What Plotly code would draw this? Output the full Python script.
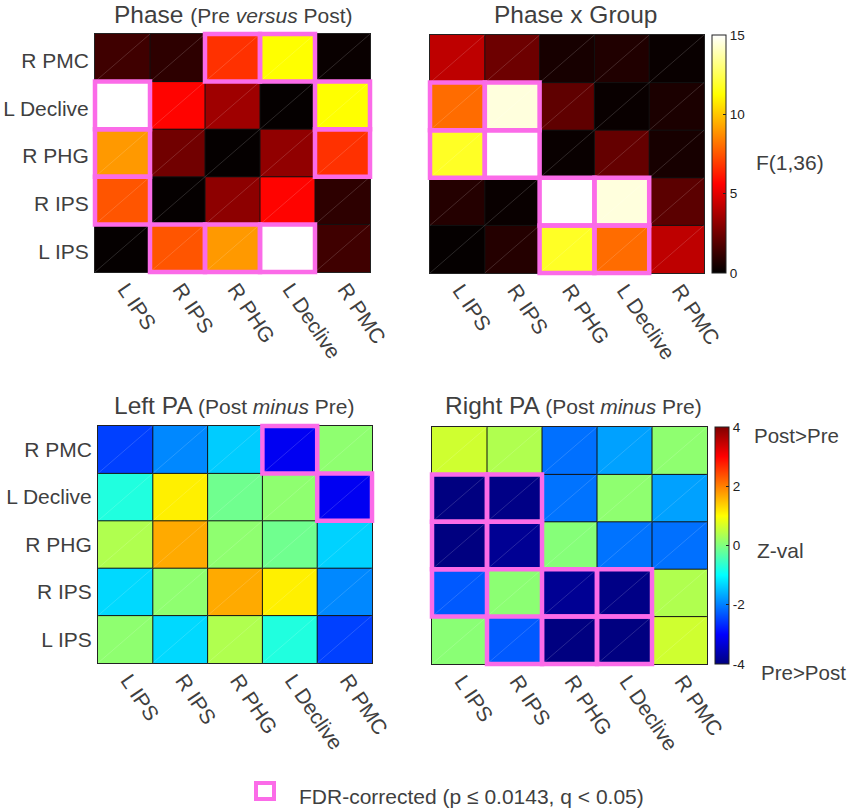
import plotly.graph_objects as go

# -------------------------------
# Data
# -------------------------------
x_labels = ['L IPS', 'R IPS', 'R PHG', 'L Declive', 'R PMC']
y_labels = ['R PMC', 'L Declive', 'R PHG', 'R IPS', 'L IPS']

phase_vals = [
    [1.4, 1.0, 6.7, 11.25, 0.2],
    [15.0, 5.7, 3.5, 0.1, 11.25],
    [9.0, 2.5, 0.1, 3.2, 6.7],
    [7.5, 0.1, 3.1, 5.7, 1.0],
    [0.1, 7.5, 9.0, 15.0, 1.4],
]
group_vals = [
    [4.2, 2.4, 0.5, 0.7, 0.2],
    [8.0, 14.5, 2.1, 0.2, 0.6],
    [11.8, 15.0, 0.2, 2.2, 0.5],
    [0.8, 0.2, 15.0, 14.5, 2.0],
    [0.1, 0.8, 11.8, 8.0, 4.2],
]
left_vals = [
    [-2.5, -1.93, -1.4, -3.1, 0.12],
    [-0.75, 1.12, -0.12, 0.12, -3.1],
    [0.38, 1.67, 0.12, -0.12, -1.35],
    [-1.3, 0.12, 1.67, 1.12, -1.93],
    [0.12, -1.3, 0.38, -0.75, -2.5],
]
right_vals = [
    [0.62, 0.38, -2.12, -1.74, 0.12],
    [-4.0, -3.95, -2.1, 0.12, -1.74],
    [-4.0, -3.85, 0.05, -2.1, -2.12],
    [-2.3, 0.1, -3.85, -3.95, 0.38],
    [0.08, -2.3, -4.0, -4.0, 0.62],
]

# colour bar ticks
f_ticks = [0, 5, 10, 15]
f_tick_text = ['0', '5', '10', '15']
z_ticks = [-4, -2, 0, 2, 4]
z_tick_text = ['-4', '-2', '0', '2', '4']

# cells with the FDR box
phase_sig = [[0, 0, 1, 1, 0], [1, 0, 0, 0, 1], [1, 0, 0, 0, 1], [1, 0, 0, 0, 0], [0, 1, 1, 1, 0]]
group_sig = [[0, 0, 0, 0, 0], [1, 1, 0, 0, 0], [1, 1, 0, 0, 0], [0, 0, 1, 1, 0], [0, 0, 1, 1, 0]]
left_sig = [[0, 0, 0, 1, 0], [0, 0, 0, 0, 1], [0, 0, 0, 0, 0], [0, 0, 0, 0, 0], [0, 0, 0, 0, 0]]
right_sig = [[0, 0, 0, 0, 0], [1, 1, 0, 0, 0], [1, 1, 0, 0, 0], [1, 0, 1, 1, 0], [0, 1, 1, 1, 0]]

# -------------------------------
# Styles
# -------------------------------
W, H = 851, 811
FONT = 'Liberation Sans'
TEXT = '#3f3f3f'
PINK = '#fb6be8'

hot = [[0, '#000000'], [0.375, '#ff0000'], [0.75, '#ffff00'], [1, '#ffffff']]
jet = [[0, '#000080'], [0.125, '#0000ff'], [0.375, '#00ffff'],
       [0.625, '#ffff00'], [0.875, '#ff0000'], [1, '#800000']]


def px_x(v):
    return v / W


def px_y(v):
    return 1 - v / H


panels = [
    dict(z=phase_vals, sig=phase_sig, box=(95, 370, 34, 272), scale=hot, zmin=0, zmax=15, ylab=True, yshift=-3,
         title='Phase <span style="font-size:21px">(Pre <i>versus</i> Post)</span>', tx=233, ty=15,
         bar=None, bar_text=None),
    dict(z=group_vals, sig=group_sig, box=(430, 704, 35, 273), scale=hot, zmin=0, zmax=15, ylab=False, yshift=0,
         title='Phase x Group', tx=575, ty=14, bar=f_ticks, bar_text=f_tick_text),
    dict(z=left_vals, sig=left_sig, box=(98, 372, 426, 663), scale=jet, zmin=-4, zmax=4, ylab=True, yshift=0,
         title='Left PA <span style="font-size:21px">(Post <i>minus</i> Pre)</span>', tx=234, ty=405,
         bar=None, bar_text=None),
    dict(z=right_vals, sig=right_sig, box=(432, 707, 427, 664), scale=jet, zmin=-4, zmax=4, ylab=False, yshift=0,
         title='Right PA <span style="font-size:21px">(Post <i>minus</i> Pre)</span>', tx=573, ty=405,
         bar=z_ticks, bar_text=z_tick_text),
]

fig = go.Figure()
shapes = []
annotations = []

# -------------------------------
# The four matrices
# -------------------------------
for i, p in enumerate(panels):
    n = '' if i == 0 else str(i + 1)
    x0, x1, y0, y1 = p['box']

    colorbar = None
    if p['bar']:
        colorbar = dict(
            thickness=14, thicknessmode='pixels', lenmode='fraction',
            len=(y1 - y0) / H, y=px_y(y1), yanchor='bottom',
            x=px_x(x1 + 8), xanchor='left', xpad=0, ypad=0,
            tickvals=p['bar'], ticktext=p['bar_text'], ticks='inside', ticklen=3, tickcolor='#222222',
            tickfont=dict(family=FONT, size=13.5, color='#222222'),
            outlinecolor='#222222', outlinewidth=1,
        )
    fig.add_trace(go.Heatmap(
        z=p['z'], x=x_labels, y=y_labels, xaxis='x' + n, yaxis='y' + n,
        colorscale=p['scale'], zmin=p['zmin'], zmax=p['zmax'],
        showscale=bool(p['bar']), colorbar=colorbar,
    ))

    fig.update_layout({
        'xaxis' + n: dict(
            domain=[px_x(x0), px_x(x1)], anchor='y' + n, tickangle=56, ticks='',
            ticklabelstandoff=-4, ticklabelshift=3,
            tickfont=dict(family=FONT, size=21, color=TEXT),
            showline=True, mirror=True, linecolor='#222222', linewidth=1, showgrid=False,
        ),
        'yaxis' + n: dict(
            domain=[px_y(y1), px_y(y0)], anchor='x' + n, autorange='reversed', ticks='',
            showticklabels=p['ylab'], ticklabelstandoff=1, ticklabelshift=p['yshift'],
            tickfont=dict(family=FONT, size=21, color=TEXT),
            showline=True, mirror=True, linecolor='#222222', linewidth=1, showgrid=False,
        ),
    })

    xd, yd = 'x' + n + ' domain', 'y' + n + ' domain'

    # thin cell lines and the faint diagonal left in each cell
    for k in range(1, 5):
        shapes.append(dict(type='line', xref=xd, yref=yd, x0=k / 5, x1=k / 5, y0=0, y1=1,
                           line=dict(color='#111111', width=1)))
        shapes.append(dict(type='line', xref=xd, yref=yd, x0=0, x1=1, y0=k / 5, y1=k / 5,
                           line=dict(color='#111111', width=1)))
    for r in range(5):
        for c in range(5):
            shapes.append(dict(type='line', xref=xd, yref=yd, x0=c / 5, x1=(c + 1) / 5,
                               y0=r / 5, y1=(r + 1) / 5,
                               line=dict(color='rgba(255,255,255,0.22)', width=0.7)))

    # pink FDR boxes
    for r, row in enumerate(p['sig']):
        for c, flag in enumerate(row):
            if flag:
                shapes.append(dict(type='rect', xref=xd, yref=yd, x0=c / 5, x1=(c + 1) / 5,
                                   y0=1 - (r + 1) / 5, y1=1 - r / 5,
                                   line=dict(color=PINK, width=4.5)))

    annotations.append(dict(text=p['title'], x=px_x(p['tx']), y=px_y(p['ty']), xref='paper', yref='paper',
                            showarrow=False, xanchor='center', yanchor='middle',
                            font=dict(family=FONT, size=24.5, color=TEXT)))


# -------------------------------
# Colour bar captions and legend
# -------------------------------
def side_text(text, x, y, size):
    annotations.append(dict(text=text, x=px_x(x), y=px_y(y), xref='paper', yref='paper',
                            showarrow=False, xanchor='left', yanchor='middle',
                            font=dict(family=FONT, size=size, color=TEXT)))


side_text('F(1,36)', 754, 163, 21)
side_text('Post&gt;Pre', 752, 435, 20.5)
side_text('Z-val', 755, 550, 21)
side_text('Pre&gt;Post', 759, 672, 20.5)
side_text('FDR-corrected (p ≤ 0.0143, q &lt; 0.05)', 297, 796, 21)

shapes.append(dict(type='rect', xref='paper', yref='paper', x0=px_x(256), x1=px_x(274),
                   y0=px_y(799), y1=px_y(783), line=dict(color=PINK, width=4)))

fig.update_layout(
    width=W, height=H, margin=dict(l=0, r=0, t=0, b=0, autoexpand=False),
    paper_bgcolor='white', plot_bgcolor='white', showlegend=False,
    shapes=shapes, annotations=annotations,
)

fig.write_html('out.html', config={'displayModeBar': False}, post_script="document.body.style.margin='0';")
